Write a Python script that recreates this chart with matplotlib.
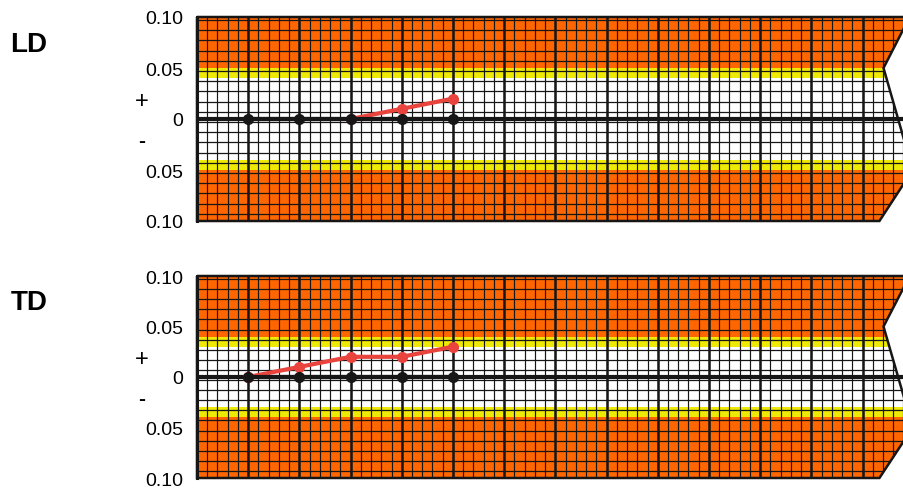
import matplotlib.pyplot as plt
import numpy as np
from matplotlib.patches import Polygon

plt.rcParams['font.family'] = ['Liberation Sans', 'DejaVu Sans']

# data
panel_names = ["LD", "TD"]
x_points = [1, 2, 3, 4, 5]
base_values = [0, 0, 0, 0, 0]
ld_values = [np.nan, np.nan, 0, 0.01, 0.02]
td_values = [0, 0.01, 0.02, 0.02, 0.03]
yellow_inner = {"LD": 0.04, "TD": 0.03}
yellow_outer = {"LD": 0.05, "TD": 0.04}
ytick_vals = [0.10, 0.05, 0, -0.05, -0.10]
ytick_labels = ["0.10", "0.05", "0", "0.05", "0.10"]

ORANGE = "#ff6600"
YELLOW = "#eeea06"
RED = "#e8433c"
INK = "#161616"

# torn right edge of the paper (x in major divisions)
tear_x = [13.92, 13.41, 13.98, 13.33]
tear_y = [0.10, 0.05, -0.05, -0.10]


def draw_panel(ax, name, values):
    ax.set_xlim(0, 13.81)
    ax.set_ylim(-0.10, 0.10)

    verts = [(0, 0.10)] + list(zip(tear_x, tear_y)) + [(0, -0.10)]
    clip = Polygon(verts, closed=True, transform=ax.transData)

    # colour bands
    yi, yo = yellow_inner[name], yellow_outer[name]
    bands = [(yo, 0.10, ORANGE), (yi, yo, YELLOW), (-yi, yi, "white"),
             (-yo, -yi, YELLOW), (-0.10, -yo, ORANGE)]
    for lo, hi, col in bands:
        sp = ax.axhspan(lo, hi, color=col, lw=0, zorder=0)
        sp.set_clip_path(clip)

    # graph paper grid
    minor_x = np.arange(0, 14.01, 0.2)
    major_x = np.arange(0, 14.01, 1.0)
    hv = ax.vlines(minor_x, -0.1, 0.1, colors=INK, lw=0.85, zorder=1)
    hv.set_clip_path(clip)
    mv = ax.vlines(major_x, -0.1, 0.1, colors=INK, lw=1.8, zorder=1)
    mv.set_clip_path(clip)
    hh = ax.hlines(np.arange(-0.093, 0.1, 0.01), 0, 14, colors=INK, lw=0.9, zorder=1)
    hh.set_clip_path(clip)

    outline = Polygon(verts, closed=True, fill=False, edgecolor=INK, lw=1.8,
                      transform=ax.transData, clip_on=False, zorder=2)
    ax.add_patch(outline)
    ax.axhline(0, color=INK, lw=3, zorder=2)

    ax.plot(x_points, values, '-o', color=RED, lw=3, ms=7, zorder=3)
    ax.plot(x_points, base_values, '-o', color=INK, lw=3, ms=7, zorder=4)

    for s in ["top", "right", "bottom"]:
        ax.spines[s].set_visible(False)
    ax.spines["left"].set_linewidth(2.2)
    ax.spines["left"].set_color(INK)
    ax.set_xticks([])
    ax.set_yticks(ytick_vals)
    ax.set_yticklabels(ytick_labels, fontsize=14)
    ax.tick_params(axis='y', length=0, pad=10)

    tr = ax.get_yaxis_transform()
    ax.text(-0.078, 0.018, "+", transform=tr, ha='center', va='center', fontsize=17)
    ax.text(-0.079, -0.021, "-", transform=tr, ha='center', va='center',
            fontsize=15, fontweight='bold')


def main():
    fig = plt.figure(figsize=(9.04, 4.89), dpi=100)
    w, h = 904, 489
    ax1 = fig.add_axes([197 / w, 1 - 222 / h, (w - 197) / w, 204 / h])
    ax2 = fig.add_axes([197 / w, 1 - 479 / h, (w - 197) / w, 202 / h])

    draw_panel(ax1, "LD", ld_values)
    draw_panel(ax2, "TD", td_values)

    fig.text(29 / w, 1 - 45 / h, "LD", ha='center', va='center', fontsize=20, fontweight='bold')
    fig.text(29 / w, 1 - 303 / h, "TD", ha='center', va='center', fontsize=20, fontweight='bold')

    fig.savefig("out.png", dpi=100)


if __name__ == "__main__":
    main()
